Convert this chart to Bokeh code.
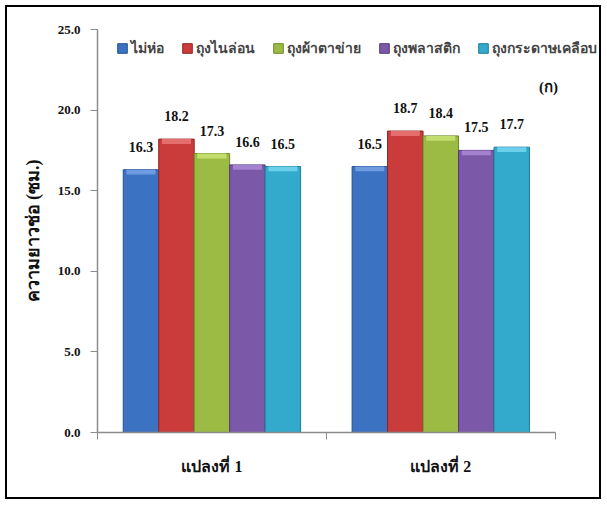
from bokeh.plotting import figure
from bokeh.models import (ColumnDataSource, FixedTicker, Range1d, Legend, LegendItem,
                          Label, LabelSet)
from bokeh.embed import file_html
from bokeh.resources import INLINE

# data
plots = ["แปลงที่ 1", "แปลงที่ 2"]
treatments = ["ไม่ห่อ", "ถุงไนล่อน", "ถุงผ้าตาข่าย", "ถุงพลาสติก", "ถุงกระดาษเคลือบ"]
values = {
    "ไม่ห่อ": [16.3, 16.5],
    "ถุงไนล่อน": [18.2, 18.7],
    "ถุงผ้าตาข่าย": [17.3, 18.4],
    "ถุงพลาสติก": [16.6, 17.5],
    "ถุงกระดาษเคลือบ": [16.5, 17.7],
}
colors = ["#3b72c2", "#c93c3b", "#9bbb45", "#7b58a8", "#33aacb"]
highlights = ["#6f9be0", "#e46e6d", "#c2de6c", "#a582d0", "#6cd0ec"]
edges = ["#26508f", "#8f2423", "#6c8a2a", "#54397a", "#1f7c98"]
y_ticks = [0, 5, 10, 15, 20, 25]

SERIF = "Liberation Serif"
THAI = "Liberation Serif"

# the frame runs past the last category so the legend and the panel tag have room;
# the x axis itself is bounded to the two categories
x_end = 2 * 503 / 455
p = figure(width=596, height=494, output_backend="svg", toolbar_location=None,
           x_range=Range1d(0, x_end), y_range=Range1d(0, 25),
           min_border_left=90, min_border_right=0, min_border_top=22, min_border_bottom=69)
p.styles = {"border": "2px solid black", "margin-left": "5px", "margin-top": "5px"}
p.outline_line_color = None
p.grid.visible = False
p.background_fill_color = "white"
p.border_fill_color = "white"

bar_w = 0.155
cap = 0.3  # depth of the bevelled highlight at the top of each bar
n = len(treatments)
items = []
for i, (t, c, h, e) in enumerate(zip(treatments, colors, highlights, edges)):
    xs = [g + 0.5 + (i - (n - 1) / 2) * bar_w for g in range(len(plots))]
    src = ColumnDataSource(dict(x=xs, top=values[t],
                                cap_bottom=[v - cap for v in values[t]],
                                lab=[f"{v:.1f}" for v in values[t]]))
    r = p.vbar(x="x", top="top", width=bar_w, source=src, fill_color=c,
               line_color=e, line_width=1)
    p.vbar(x="x", top="top", bottom="cap_bottom", width=bar_w * 0.82, source=src,
           fill_color=h, line_color=None)
    items.append(LegendItem(label=t, renderers=[r]))
    p.add_layout(LabelSet(x="x", y="top", text="lab", source=src, y_offset=23,
                          text_align="center", text_baseline="middle",
                          text_font=SERIF, text_font_style="bold",
                          text_font_size="14px", text_color="#111111"))

legend = Legend(items=items, orientation="horizontal", location=(19, 373),
                border_line_color=None, background_fill_alpha=0,
                label_text_font=THAI, label_text_font_style="bold",
                label_text_font_size="14px", glyph_width=12, glyph_height=12,
                spacing=17, label_standoff=3, padding=2, margin=0)
p.add_layout(legend, "center")

# x axis: category labels centred, ticks on category boundaries
p.xaxis.bounds = (0, 2)
p.xaxis.ticker = FixedTicker(ticks=[0.5, 1.5], minor_ticks=[0, 1, 2])
p.xaxis.major_label_overrides = {0.5: plots[0], 1.5: plots[1]}
p.xaxis.major_tick_line_color = None
p.xaxis.minor_tick_in = 0
p.xaxis.minor_tick_out = 7
p.xaxis.minor_tick_line_color = "#8c8c8c"
p.xaxis.axis_line_color = "#8c8c8c"
p.xaxis.axis_line_width = 1.5
p.xaxis.major_label_text_font = THAI
p.xaxis.major_label_text_font_style = "bold"
p.xaxis.major_label_text_font_size = "16px"
p.xaxis.major_label_standoff = 18
p.xaxis.major_label_text_color = "#111111"

p.yaxis.ticker = FixedTicker(ticks=y_ticks, minor_ticks=[])
p.yaxis.major_label_overrides = {t: f"{t:.1f}" for t in y_ticks}
p.yaxis.major_tick_in = 0
p.yaxis.major_tick_out = 7
p.yaxis.major_tick_line_color = "#8c8c8c"
p.yaxis.axis_line_color = "#8c8c8c"
p.yaxis.axis_line_width = 1.5
p.yaxis.major_label_text_font = SERIF
p.yaxis.major_label_text_font_style = "bold"
p.yaxis.major_label_text_font_size = "13px"
p.yaxis.major_label_standoff = 10
p.yaxis.major_label_text_color = "#111111"
p.yaxis.axis_label = "ความยาวช่อ (ซม.)"
p.yaxis.axis_label_text_font = THAI
p.yaxis.axis_label_text_font_style = "bold"
p.yaxis.axis_label_text_font_size = "18px"
p.yaxis.axis_label_standoff = 12
p.yaxis.axis_label_text_color = "#111111"

p.add_layout(Label(x=451, y=346, x_units="screen", y_units="screen", text="(ก)",
                   text_font=THAI, text_font_style="bold", text_font_size="15px",
                   text_color="#111111", text_align="center", text_baseline="middle"))

open("out.html", "w").write(file_html(p, INLINE))
